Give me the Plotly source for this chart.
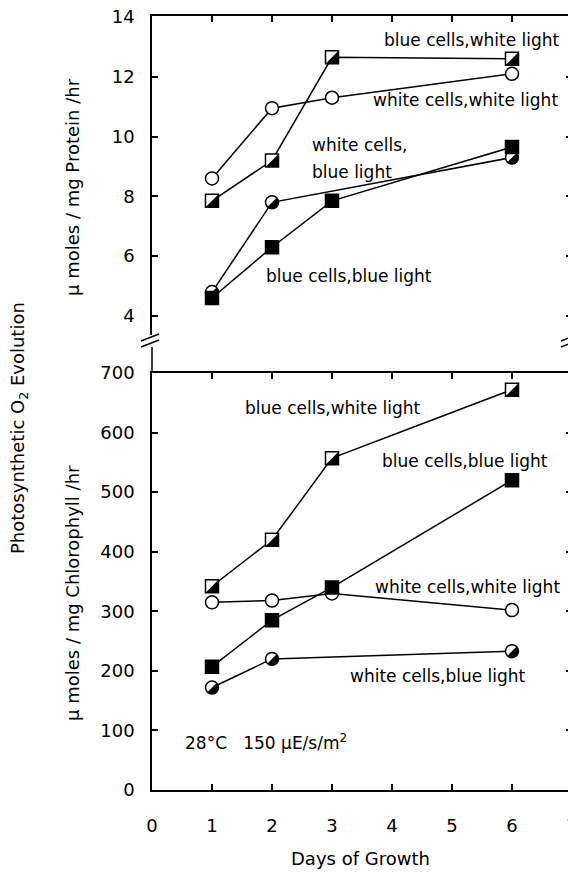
import numpy as np
import plotly.graph_objects as go

# ---------------- data ----------------
days = [1, 2, 3, 6]
days_short = [1, 2, 6]

# top panel: umoles O2 / mg protein / hr
prot_blue_cells_white_light = [7.85, 9.2, 12.65, 12.6]
prot_white_cells_white_light = [8.6, 10.95, 11.3, 12.1]
prot_white_cells_blue_light = [4.8, 7.8, 9.3]
prot_blue_cells_blue_light = [4.6, 6.3, 7.85, 9.65]

# bottom panel: umoles O2 / mg chlorophyll / hr
chl_blue_cells_white_light = [342, 420, 557, 672]
chl_blue_cells_blue_light = [207, 285, 340, 520]
chl_white_cells_white_light = [315, 318, 330, 302]
chl_white_cells_blue_light = [172, 220, 233]

x_ticks = [0, 1, 2, 3, 4, 5, 6, 7]
prot_ticks = [4, 6, 8, 10, 12, 14]
chl_ticks = [0, 100, 200, 300, 400, 500, 600, 700]

# ---------------- styling helpers ----------------
FONT = "DejaVu Sans"
MS = 13
HALF_SQ = "M 6.5,6.5 L 6.5,-6.5 L -6.5,-6.5 Z"
th = np.linspace(np.pi / 4, -3 * np.pi / 4, 25)
HALF_CI = "M " + " L ".join(f"{6.5*np.cos(t):.2f},{6.5*np.sin(t):.2f}" for t in th) + " Z"

fig = go.Figure()
shapes = []


def add_series(x, y, xa, ya, kind):
    symbol = "square" if "sq" in kind else "circle"
    fill = "black" if kind == "full_sq" else "white"
    fig.add_trace(go.Scatter(
        x=x, y=y, xaxis=xa, yaxis=ya, mode="lines+markers",
        line=dict(color="black", width=1.5),
        marker=dict(symbol=symbol, size=MS, color=fill,
                    line=dict(color="black", width=1.5)),
        showlegend=False, hoverinfo="skip", cliponaxis=False))
    if kind.startswith("half"):
        path = HALF_SQ if symbol == "square" else HALF_CI
        xr = "x" if xa == "x" else "x2"
        yr = "y" if ya == "y" else "y2"
        for xv, yv in zip(x, y):
            shapes.append(dict(type="path", xref=xr, yref=yr,
                               xsizemode="pixel", ysizemode="pixel",
                               xanchor=xv, yanchor=yv, path=path,
                               fillcolor="black", line=dict(width=0),
                               layer="above"))


# top panel
add_series(days, prot_blue_cells_white_light, "x2", "y2", "half_sq")
add_series(days, prot_white_cells_white_light, "x2", "y2", "open_ci")
add_series(days_short, prot_white_cells_blue_light, "x2", "y2", "half_ci")
add_series(days, prot_blue_cells_blue_light, "x2", "y2", "full_sq")
# bottom panel
add_series(days, chl_blue_cells_white_light, "x", "y", "half_sq")
add_series(days, chl_white_cells_white_light, "x", "y", "open_ci")
add_series(days_short, chl_white_cells_blue_light, "x", "y", "half_ci")
add_series(days, chl_blue_cells_blue_light, "x", "y", "full_sq")

# axis-break decorations (paper coords)
L = dict(color="black", width=1.5)
for xp in (0, 1):
    shapes.append(dict(type="line", xref="paper", yref="paper",
                       x0=xp, x1=xp, y0=0.5388, y1=0.5724, line=L))
    for dy in (0, 0.0077):
        shapes.append(dict(type="line", xref="paper", yref="paper",
                           x0=xp - 0.0262, x1=xp + 0.0167,
                           y0=0.5724 + dy, y1=0.5814 + dy, line=L))

ann = []
TF = dict(family=FONT, size=17, color="black")
ann += [
    dict(x=5.33, y=13.23, xref="x2", yref="y2", text="blue cells,white light", xanchor="center"),
    dict(x=5.23, y=11.22, xref="x2", yref="y2", text="white cells,white light", xanchor="center"),
    dict(x=2.63, y=9.72, xref="x2", yref="y2", text="white cells,", xanchor="left"),
    dict(x=2.63, y=8.82, xref="x2", yref="y2", text="blue light", xanchor="left"),
    dict(x=3.28, y=5.34, xref="x2", yref="y2", text="blue cells,blue light", xanchor="center"),
    dict(x=3.02, y=642, xref="x", yref="y", text="blue cells,white light", xanchor="center"),
    dict(x=5.22, y=552, xref="x", yref="y", text="blue cells,blue light", xanchor="center"),
    dict(x=5.25, y=340, xref="x", yref="y", text="white cells,white light", xanchor="center"),
    dict(x=4.77, y=192, xref="x", yref="y", text="white cells,blue light", xanchor="center"),
    dict(x=0.52, y=80, xref="x", yref="y",
         text="28°C\u00a0\u00a0\u00a0150 µE/s/m<sup>2</sup>", xanchor="left"),
]
for a in ann:
    a.update(showarrow=False, yanchor="middle", font=TF)

TT = dict(family=FONT, size=18, color="black")
titles = [
    dict(x=(19 - 152) / 420, y=(790 - 428) / 774, text="Photosynthetic O<sub>2</sub> Evolution", textangle=-90),
    dict(x=(73 - 152) / 420, y=(790 - 187) / 774, text="µ moles / mg Protein /hr", textangle=-90),
    dict(x=(73 - 152) / 420, y=(790 - 593) / 774, text="µ moles / mg Chlorophyll /hr", textangle=-90),
    dict(x=(360 - 152) / 420, y=(790 - 858) / 774, text="Days of Growth", textangle=0),
]
for t in titles:
    t.update(xref="paper", yref="paper", showarrow=False, xanchor="center",
             yanchor="middle", font=TT)
ann += titles

axis_common = dict(showline=True, linecolor="black", linewidth=1.5,
                   ticks="inside", ticklen=6, tickwidth=1.5, tickcolor="black",
                   showgrid=False, zeroline=False, mirror="ticks", automargin=False,
                   ticklabeloverflow="allow",
                   tickfont=dict(family=FONT, size=18, color="black"))

# the page body adds an 8px offset; figure size and margins compensate so the
# plot area lands at x 152-572, y 16-790 in the 576x878 window
fig.update_layout(
    width=568, height=870,
    margin=dict(l=144, r=4, t=8, b=88, autoexpand=False),
    paper_bgcolor="white", plot_bgcolor="white",
    showlegend=False,
    xaxis=dict(domain=[0, 1], anchor="y", range=[0, 7], tickvals=x_ticks,
               ticklabelstandoff=19, **axis_common),
    yaxis=dict(domain=[0, 0.5388], anchor="x", range=[0, 700], tickvals=chl_ticks,
               ticklabelstandoff=12, **axis_common),
    xaxis2=dict(domain=[0, 1], anchor="y2", matches="x", range=[0, 7], side="top",
                tickvals=x_ticks, showticklabels=False,
                **{k: v for k, v in axis_common.items() if k != "mirror"}),
    yaxis2=dict(domain=[0.5879, 1], anchor="x2", range=[3.365, 14.033],
                tickvals=prot_ticks, ticklabelstandoff=12, **axis_common),
    shapes=shapes,
    annotations=ann,
)

fig.write_html("out.html")
